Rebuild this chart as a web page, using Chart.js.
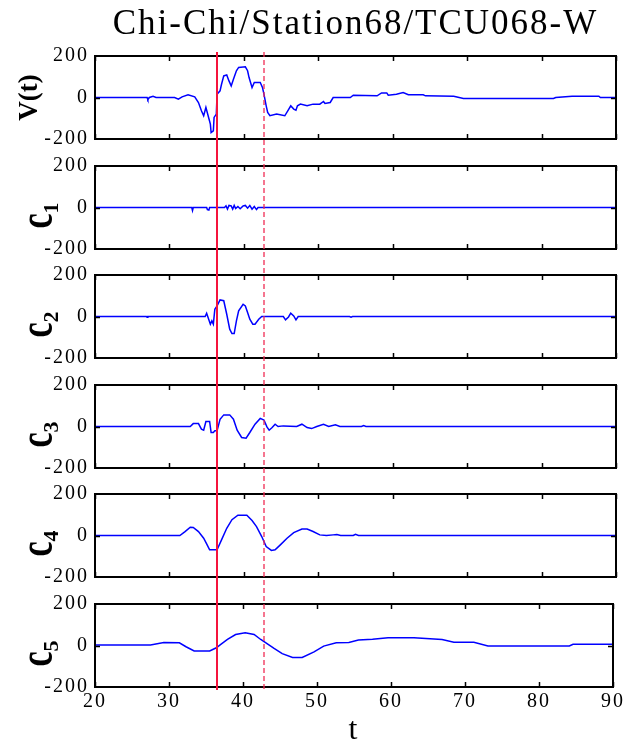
<!DOCTYPE html>
<html>
<head>
<meta charset="utf-8">
<script src="https://cdn.jsdelivr.net/npm/chart.js@4.4.1/dist/chart.umd.min.js"></script>
<style>
  html, body { margin: 0; padding: 0; background: #fff; }
  #wrap { position: relative; width: 626px; height: 740px; }
  #wrap canvas { position: absolute; left: 0; top: 0; }
</style>
</head>
<body>
<div id="wrap"></div>
<script>
// ---- data ----
const vT = [20, 27.0, 27.1, 27.3, 27.8, 28.2, 30.7, 31.2, 31.7, 32.5, 33.4, 33.9, 34.3, 34.6, 34.9, 35.2, 35.5, 35.6, 35.9, 36.0, 36.3, 36.4, 36.8, 37.0, 37.3, 37.7, 38.0, 38.3, 38.6, 39.0, 39.3, 40.2, 40.5, 40.7, 41.1, 41.4, 42.2, 42.5, 42.7, 43.0, 43.2, 43.5, 44.4, 45.5, 45.9, 46.3, 46.7, 47.0, 47.2, 47.6, 48.5, 49.3, 50.2, 50.7, 50.9, 51.6, 52.0, 54.3, 54.7, 57.9, 58.5, 59.2, 59.4, 60.5, 61.4, 62.1, 64.1, 64.4, 68.2, 69.5, 81.6, 81.9, 84.1, 87.7, 87.9, 90];
const vVals = [0, 0, -10, 0, 6, 0, 0, -8, 3, 13, 3, -24, -64, -88, -48, -88, -128, -169, -161, -96, -80, 16, 32, 64, 104, 109, 80, 56, 88, 129, 145, 148, 129, 96, 48, 72, 72, 48, 16, -40, -72, -88, -80, -88, -64, -40, -56, -61, -40, -32, -40, -32, -32, -19, -29, -24, 0, 0, 11, 8, 22, 22, 11, 16, 24, 13, 13, 8, 6, -5, -5, 0, 6, 6, 0, 0];

const c1T = [20, 33.0, 33.1, 33.2, 35.0, 35.1, 35.3, 35.4, 37.4, 37.6, 37.8, 38.0, 38.3, 38.5, 38.7, 38.9, 39.2, 39.5, 39.9, 40.2, 40.5, 40.8, 41.1, 41.4, 41.7, 41.9, 90];
const c1Vals = [0, 0, -15, 0, 0, -10, -12, 0, 0, 8, -8, 10, 8, -8, 10, -5, 5, -6, 8, 10, -3, 10, -8, 5, -10, 0, 0];

const c2T = [20, 26.9, 27.0, 27.1, 34.8, 35.0, 35.5, 35.7, 35.9, 36.1, 36.4, 36.8, 37.3, 37.7, 38.1, 38.4, 38.7, 39.0, 39.3, 39.9, 40.2, 40.5, 40.8, 41.2, 41.5, 42.0, 42.4, 45.3, 45.6, 46.0, 46.3, 46.7, 47.0, 47.3, 54.2, 54.4, 54.6, 90];
const c2Vals = [0, 0, -4, 0, 0, 16, -37, -21, -37, 35, 51, 80, 76, 11, -61, -82, -82, -21, 27, 59, 51, 19, -13, -37, -37, -13, 0, 0, -16, -2, 16, 3, -16, 0, 0, -3, 0, 0];

const c3T = [20, 32.8, 33.2, 33.9, 34.3, 34.6, 34.9, 35.4, 35.6, 35.9, 36.1, 36.4, 36.8, 37.3, 38.1, 38.6, 39.1, 39.7, 40.3, 40.8, 41.5, 42.2, 42.7, 43.1, 43.4, 43.8, 44.2, 44.6, 45.3, 47.1, 47.8, 48.5, 49.1, 49.8, 50.7, 51.4, 52.3, 52.9, 55.8, 56.1, 56.4, 90];
const c3Vals = [0, 0, 14, 14, -13, -18, 24, 24, -29, -29, -21, -21, 35, 56, 56, 35, -18, -53, -56, -29, 11, 39, 31, -2, -18, -5, 11, 0, 3, 0, 11, -5, -10, 0, 11, 0, 8, 0, 0, 4, 0, 0];

const c4T = [20, 31.4, 32.1, 32.8, 33.2, 33.9, 34.6, 35.0, 35.4, 36.4, 37.0, 37.7, 38.4, 39.2, 40.4, 41.1, 41.7, 42.4, 43.0, 43.7, 44.2, 44.9, 45.8, 46.7, 47.8, 48.5, 49.3, 50.2, 51.1, 52.0, 52.5, 53.0, 54.7, 55.0, 55.4, 90];
const c4Vals = [0, 0, 19, 40, 39, 19, -13, -40, -69, -69, -21, 35, 76, 98, 98, 72, 43, -5, -53, -72, -69, -45, -13, 14, 31, 31, 19, 3, 0, 3, 5, 0, 0, 6, 0, 0];

const c5T = [20, 27.5, 29.3, 31.4, 32.3, 33.4, 35.5, 36.4, 37.0, 37.9, 39.0, 40.3, 41.5, 42.4, 43.1, 44.2, 45.3, 46.7, 48.0, 49.6, 50.9, 52.6, 54.3, 55.6, 57.5, 59.6, 63.1, 66.9, 68.5, 71.2, 73.1, 84.1, 84.6, 90];
const c5Vals = [2, 2, 14, 13, -6, -26, -26, -11, 5, 29, 53, 61, 53, 29, 13, -14, -39, -58, -58, -31, -3, 13, 15, 26, 30, 37, 37, 29, 16, 16, -2, -2, 6, 6];

const labelMain = ['V(t)', 'c', 'c', 'c', 'c', 'c'];
const labelSub = ['', '1', '2', '3', '4', '5'];
const xTicks = [20, 30, 40, 50, 60, 70, 80, 90];
const yTicks = [-200, 0, 200];
const markerT = [36.5, 42.9];   // solid, dashed

const seriesT = [vT, c1T, c2T, c3T, c4T, c5T];
const seriesV = [vVals, c1Vals, c2Vals, c3Vals, c4Vals, c5Vals];

// ---- layout ----
const W = 626, H = 740;
const plotLeft = 95, plotRight = 616;
const panelTop = [56, 166, 275, 385, 494, 604];
const panelH = 83;
const serif = "'Liberation Serif', 'Times New Roman', serif";

const wrap = document.getElementById('wrap');

function framePlugin(idx) {
    const last = idx === seriesT.length - 1;
    return {
        id: 'frame' + idx,
        beforeDraw(chart) {
            chart.ctx.letterSpacing = '2px';
        },
        afterDraw(chart) {
            const ctx = chart.ctx;
            const a = chart.chartArea;
            const xs = chart.scales.x;
            const ys = chart.scales.y;
            ctx.save();
            ctx.letterSpacing = '0px';
            // box
            ctx.strokeStyle = '#000';
            ctx.lineWidth = 2;
            ctx.strokeRect(a.left, a.top, a.right - a.left, a.bottom - a.top);
            // inward tick marks
            ctx.lineWidth = 1.5;
            ctx.beginPath();
            xTicks.forEach(t => {
                const px = Math.round(xs.getPixelForValue(t)) + 0.5;
                ctx.moveTo(px, a.top);
                ctx.lineTo(px, a.top + 5);
                ctx.moveTo(px, a.bottom);
                ctx.lineTo(px, a.bottom - 5);
            });
            const py0 = Math.round(ys.getPixelForValue(0)) + 0.5;
            ctx.moveTo(a.left, py0); ctx.lineTo(a.left + 5, py0);
            ctx.moveTo(a.right, py0); ctx.lineTo(a.right - 5, py0);
            ctx.stroke();

            // rotated panel label
            const midY = (a.top + a.bottom) / 2;
            ctx.fillStyle = '#000';
            if (labelSub[idx] === '') {
                ctx.translate(37, midY);
                ctx.rotate(-Math.PI / 2);
                ctx.font = 'bold 27px ' + serif;
                ctx.textAlign = 'center';
                ctx.textBaseline = 'alphabetic';
                ctx.fillText(labelMain[idx], 0, 0);
            } else {
                ctx.translate(52, midY + 8);
                ctx.rotate(-Math.PI / 2);
                ctx.textBaseline = 'alphabetic';
                ctx.textAlign = 'left';
                ctx.font = 'bold 34px ' + serif;
                const wMain = ctx.measureText(labelMain[idx]).width;
                ctx.font = 'bold 22px ' + serif;
                const wSub = ctx.measureText(labelSub[idx]).width;
                const x0 = -(wMain + wSub) / 2;
                ctx.save();
                ctx.scale(1, 1.45);
                ctx.font = 'bold 34px ' + serif;
                ctx.fillText(labelMain[idx], x0, 0);
                ctx.restore();
                ctx.font = 'bold 22px ' + serif;
                ctx.fillText(labelSub[idx], x0 + wMain, 6);
            }
            ctx.restore();

            // event markers across all panels, drawn once on the top canvas
            if (last) {
                ctx.save();
                markerT.forEach((t, k) => {
                    const px = Math.round(xs.getPixelForValue(t));
                    ctx.beginPath();
                    if (k === 0) {
                        ctx.strokeStyle = 'rgb(245,20,60)';
                        ctx.lineWidth = 2;
                        ctx.setLineDash([]);
                    } else {
                        ctx.strokeStyle = 'rgba(240,40,80,0.85)';
                        ctx.lineWidth = 1.5;
                        ctx.setLineDash([5, 3]);
                    }
                    ctx.moveTo(px, 52);
                    ctx.lineTo(px, 690);
                    ctx.stroke();
                });
                ctx.restore();
            }
        }
    };
}

seriesT.forEach((tArr, idx) => {
    const canvas = document.createElement('canvas');
    canvas.width = W;
    canvas.height = H;
    canvas.style.width = W + 'px';
    canvas.style.height = H + 'px';
    wrap.appendChild(canvas);

    const first = idx === 0;
    const last = idx === seriesT.length - 1;
    const top = panelTop[idx];
    const bottom = top + panelH;

    new Chart(canvas.getContext('2d'), {
        type: 'line',
        data: {
            datasets: [{
                data: tArr.map((t, k) => ({ x: t, y: seriesV[idx][k] })),
                borderColor: '#0000ff',
                borderWidth: 1.5,
                pointRadius: 0,
                tension: 0,
                fill: false
            }]
        },
        options: {
            responsive: false,
            devicePixelRatio: 1,
            animation: false,
            events: [],
            layout: {
                padding: {
                    left: 0,
                    right: W - plotRight,
                    top: first ? 0 : top,
                    bottom: last ? 0 : H - bottom
                }
            },
            plugins: {
                legend: { display: false },
                tooltip: { enabled: false },
                title: {
                    display: first,
                    fullSize: false,
                    text: 'Chi-Chi/Station68/TCU068-W',
                    color: '#000',
                    font: { family: serif, size: 35, weight: 'normal' },
                    padding: { top: 4, bottom: 10 }
                }
            },
            scales: {
                x: {
                    type: 'linear',
                    min: 20,
                    max: 90,
                    afterBuildTicks: s => { s.ticks = xTicks.map(v => ({ value: v })); },
                    afterFit: s => { s.height = last ? H - bottom : 0; },
                    grid: { display: false, drawTicks: false },
                    border: { display: false },
                    ticks: {
                        display: last,
                        color: '#000',
                        font: { family: serif, size: 20 },
                        padding: 3,
                        maxRotation: 0
                    },
                    title: {
                        display: last,
                        text: 't',
                        color: '#000',
                        font: { family: serif, size: 32, lineHeight: 0.6 },
                        padding: { top: 0, bottom: 0 }
                    }
                },
                y: {
                    min: -200,
                    max: 200,
                    afterBuildTicks: s => { s.ticks = yTicks.map(v => ({ value: v })); },
                    afterFit: s => { s.width = plotLeft; },
                    grid: { display: false, drawTicks: false },
                    border: { display: false },
                    ticks: {
                        color: '#000',
                        font: { family: serif, size: 20 },
                        padding: 6
                    }
                }
            }
        },
        plugins: [framePlugin(idx)]
    });
});
</script>
</body>
</html>
